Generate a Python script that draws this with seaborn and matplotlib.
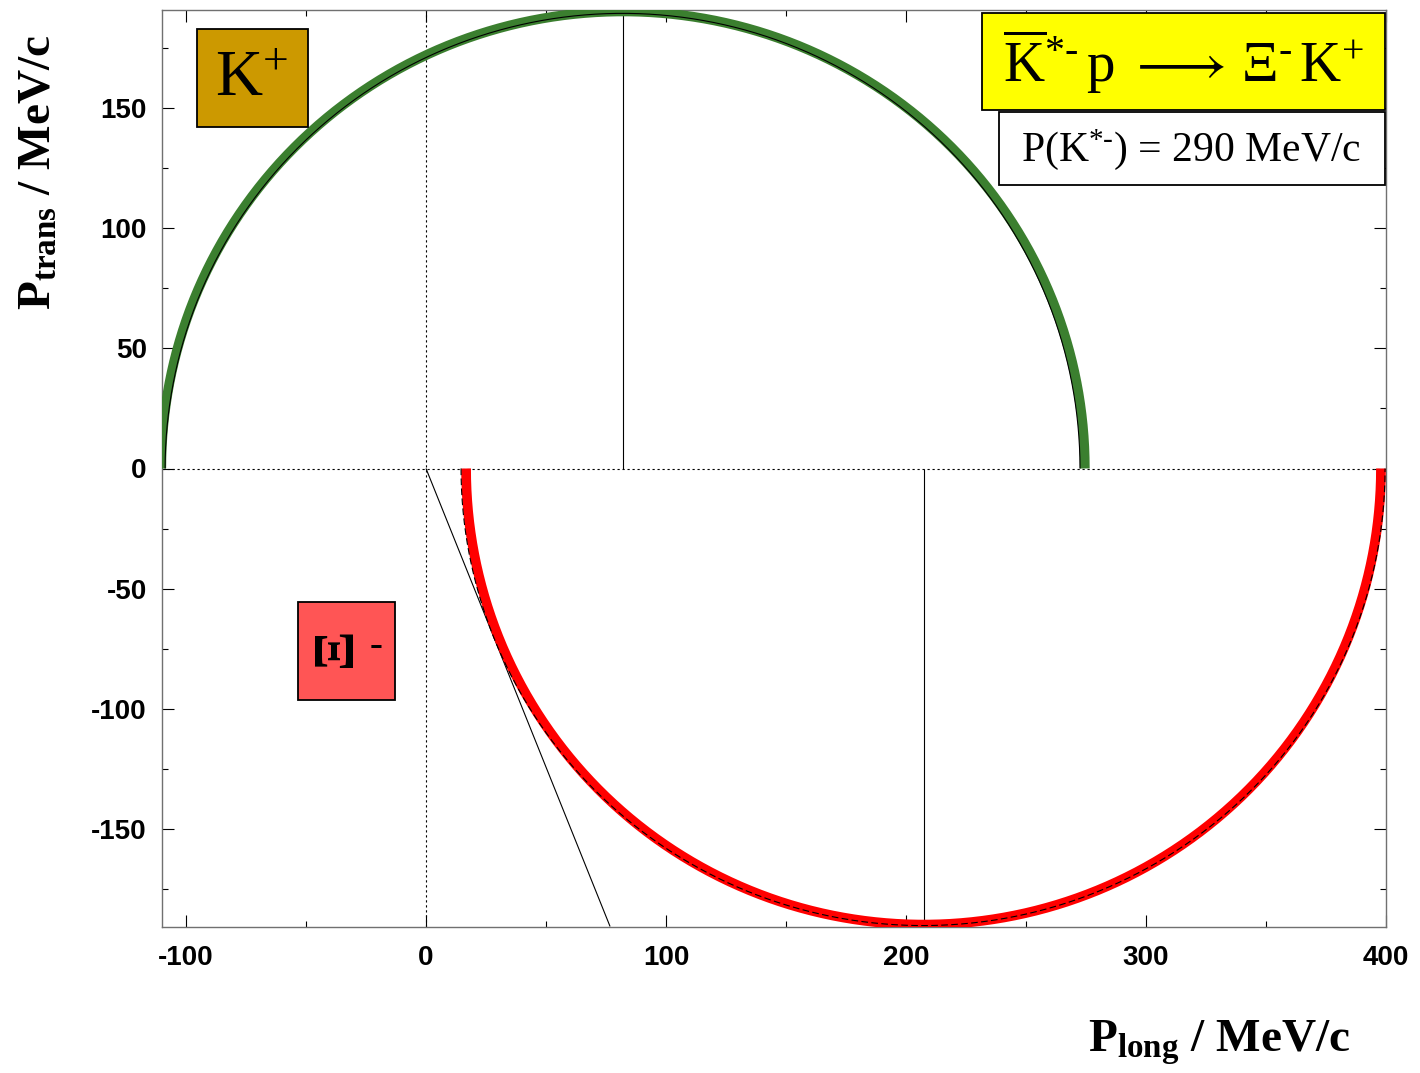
import numpy as np
import pandas as pd
import matplotlib
matplotlib.use("Agg")
import matplotlib.pyplot as plt
from matplotlib.patches import Rectangle
from matplotlib.ticker import MultipleLocator
import seaborn as sns

# Kinematic ellipses (MeV/c): centre on P_long, semi-axis along P_long, semi-axis along P_trans
kplus_thick = [82.1, 192.4, 190.4]
kplus_thin = [81.9, 190.6, 189.6]
xi_thick = [207.3, 190.6, 190.0]
xi_dashed = [207.1, 192.5, 190.4]

# Maximum-angle line for the Xi- (from origin to the frame edge)
tangent_x = [0.0, 76.7]
tangent_y = [0.0, -190.8]

# Ellipse centre markers
kplus_centre_x = [82.1, 82.1]
kplus_centre_y = [0.0, 190.4]
xi_centre_x = [207.3, 207.3]
xi_centre_y = [0.0, -190.0]

x_range = [-110, 400]
y_range = [-191, 191]
x_ticks = [-100, 0, 100, 200, 300, 400]
y_ticks = [-150, -100, -50, 0, 50, 100, 150]

sns.set_theme(style="ticks")
plt.rcParams["font.family"] = ["Liberation Sans", "DejaVu Sans"]
plt.rcParams["text.color"] = "black"
plt.rcParams["xtick.labelcolor"] = "black"
plt.rcParams["ytick.labelcolor"] = "black"
plt.rcParams["axes.unicode_minus"] = False
plt.rcParams["mathtext.fontset"] = "custom"
plt.rcParams["mathtext.rm"] = "Liberation Serif"
plt.rcParams["mathtext.it"] = "Liberation Serif:italic"
plt.rcParams["mathtext.bf"] = "Liberation Serif:bold"


def half_ellipse(params, upper):
    cx, a, b = params
    t = np.linspace(0, np.pi, 400)
    sign = 1 if upper else -1
    return pd.DataFrame({"x": cx - a * np.cos(t), "y": sign * b * np.sin(t)})


def draw(data=None, x=None, y=None, color="black", width=0.8, style="-", z=2):
    n0 = len(ax.lines)
    sns.lineplot(data=data, x=x, y=y, sort=False, estimator=None, ax=ax,
                 color=color, zorder=z)
    for ln in ax.lines[n0:]:
        ln.set_linewidth(width)
        ln.set_linestyle(style)
        ln.set_solid_capstyle("butt")


W, H = 1420, 1073
fig = plt.figure(figsize=(W / 100, H / 100), dpi=100)
ax = fig.add_axes([162 / W, 1 - 927 / H, (1386 - 162) / W, (927 - 10) / H])

# reference axes through the origin
ax.axhline(0, color="black", linewidth=0.8, linestyle=(0, (2, 2.5)), zorder=1)
ax.axvline(0, color="black", linewidth=0.8, linestyle=(0, (2, 2.5)), zorder=1)

draw(half_ellipse(kplus_thick, True), "x", "y", color="#3b7f2f", width=7.0, z=3)
draw(half_ellipse(xi_thick, False), "x", "y", color="#ff0000", width=7.0, z=3)
draw(half_ellipse(kplus_thin, True), "x", "y", width=0.8, z=4)
draw(half_ellipse(xi_dashed, False), "x", "y", width=0.8, style=(0, (6, 3)), z=4)

draw(x=tangent_x, y=tangent_y)
draw(x=kplus_centre_x, y=kplus_centre_y)
draw(x=xi_centre_x, y=xi_centre_y)

ax.set_xlim(x_range)
ax.set_ylim(y_range)
ax.set_xticks(x_ticks)
ax.set_yticks(y_ticks)
ax.xaxis.set_minor_locator(MultipleLocator(50))
ax.yaxis.set_minor_locator(MultipleLocator(25))
ax.tick_params(which="both", direction="in", top=True, right=True, color="black", width=0.8)
ax.tick_params(which="major", length=8.5)
ax.tick_params(which="minor", length=4.3)
ax.tick_params(axis="x", which="major", pad=13, labelsize=20)
ax.tick_params(axis="y", which="major", pad=11, labelsize=20)
for lab in ax.get_xticklabels() + ax.get_yticklabels():
    lab.set_fontweight("bold")
for sp in ax.spines.values():
    sp.set_color("#707070")
    sp.set_linewidth(1.0)
ax.set_xlabel("")
ax.set_ylabel("")

serif = ["Liberation Serif", "DejaVu Serif"]

# axis titles
fig.text(1350 / W, 1 - 1052 / H, r"$\mathbf{P}_{\mathbf{long}}$ / MeV/c",
         family=serif, weight="bold", size=34, ha="right", va="baseline")
fig.text(40 / W, 1 - 35 / H, r"$\mathbf{P}_{\mathbf{trans}}$ / MeV/c",
         family=serif, weight="bold", size=34, ha="center", va="top", rotation=90)


def label_box(x0, y0, x1, y1, face):
    fig.add_artist(Rectangle((x0 / W, 1 - y1 / H), (x1 - x0) / W, (y1 - y0) / H,
                             transform=fig.transFigure, facecolor=face,
                             edgecolor="black", linewidth=1.3, zorder=5))


# particle labels
label_box(197, 29, 308, 127, "#cc9900")
fig.text(252 / W, 1 - 80 / H, r"K$^{+}$", family=serif, size=47,
         ha="center", va="center", zorder=6)

label_box(298, 602, 395, 700, "#ff5555")
fig.text(340 / W, 1 - 652 / H, r"$\mathbf{Ξ}$", family=serif, size=42, rotation=90,
         ha="center", va="center", zorder=6)
fig.text(370 / W, 1 - 647 / H, "-", family=serif, size=28, weight="bold",
         ha="left", va="center", zorder=6)

# reaction and beam momentum
label_box(982, 13, 1385, 110, "#ffff00")
fig.text(1183 / W, 1 - 62 / H,
         r"$\overline{\mathrm{K}}^{*\text{-}}\,\mathrm{p}\ \longrightarrow\,\mathrm{Ξ}^{\text{-}}\,\mathrm{K}^{+}$",
         family=serif, size=41, ha="center", va="center", zorder=6)
label_box(999, 112, 1385, 185, "white")
fig.text(1191 / W, 1 - 150 / H, r"P(K$^{*\text{-}}$) = 290 MeV/c",
         family=serif, size=30, ha="center", va="center", zorder=6)

fig.savefig("out.png", dpi=100, facecolor="white")
